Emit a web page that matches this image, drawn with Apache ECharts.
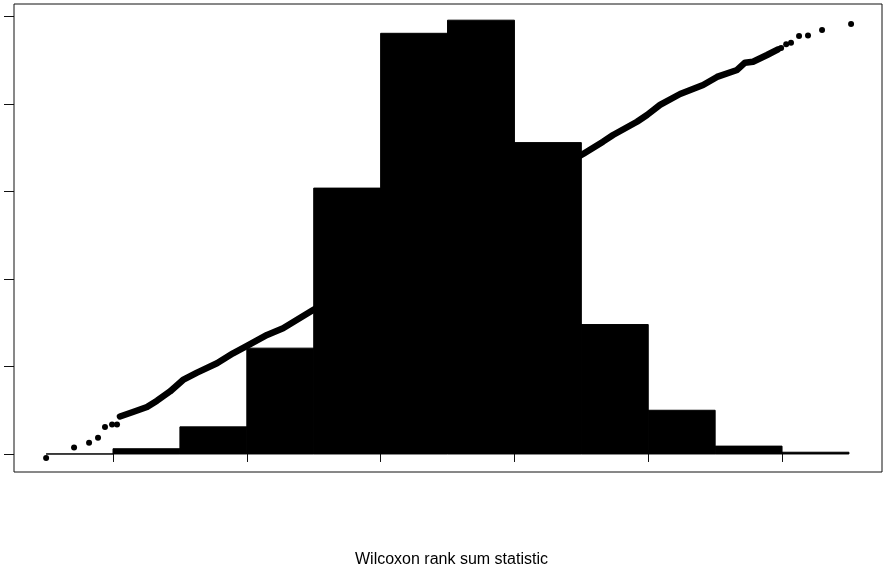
<!DOCTYPE html>
<html>
<head>
<meta charset="utf-8">
<script src="https://cdn.jsdelivr.net/npm/echarts@6/dist/echarts.min.js"></script>
<style>
html,body{margin:0;padding:0;background:#fff;}
#chart{width:883px;height:569px;}
</style>
</head>
<body>
<div id="chart"></div>
<script>
// Histogram bins (statistic value ranges) and counts
var binStart = [35, 40, 45, 50, 55, 60, 65, 70, 75, 80, 85, 90];
var binEnd   = [40, 45, 50, 55, 60, 65, 70, 75, 80, 85, 90, 95];
var counts   = [0, 6, 31, 121, 304, 481, 496, 356, 148, 50, 9, 2];

// Ordered statistics overlay: dense part (drawn as thick trace)
var traceX = [40.52, 41.49, 42.54, 43.29, 44.26, 45.23, 46.28, 47.77, 48.97, 50.01, 51.51, 52.71, 54.95,
              75.13, 76.62, 77.37, 79.16, 79.91, 80.88, 82.38, 84.10, 85.14, 86.64, 87.23, 87.83, 88.88, 89.70];
var traceY = [42.9, 48.0, 53.7, 60.9, 71.5, 84.6, 93.0, 103.7, 115.1, 123.5, 136.1, 143.7, 164.6,
              343.0, 357.1, 364.7, 379.9, 387.6, 399.1, 411.6, 421.9, 431.1, 439.1, 447.4, 448.5, 456.2, 462.7];

// Ordered statistics overlay: isolated extreme points
var dotX = [35.0, 37.09, 38.21, 38.88, 39.40, 39.93, 40.30, 89.93, 90.31, 90.67, 91.27, 91.94, 92.99, 95.16];
var dotY = [-4.6, 7.4, 12.8, 18.6, 30.9, 33.7, 33.7, 464.2, 468.4, 470.3, 477.9, 478.5, 484.8, 491.7];

// Axis ticks (no labels shown in the reference)
var xTicks = [40, 50, 60, 70, 80, 90];
var yTicks = [0, 100, 200, 300, 400, 500];

var xTitle = 'Wilcoxon rank sum statistic';

var barData = binStart.map(function (s, i) { return [s, binEnd[i], counts[i]]; });
var traceData = traceX.map(function (x, i) { return [x, traceY[i]]; });
var dotData = dotX.map(function (x, i) { return [x, dotY[i]]; });

var chart = echarts.init(document.getElementById('chart'), null, {renderer: 'canvas'});
chart.setOption({
  animation: false,
  backgroundColor: '#fff',
  title: {
    text: xTitle, left: 355, top: 552, padding: 0,
    textStyle: {fontFamily: 'Liberation Sans', fontSize: 16, fontWeight: 'normal', color: '#000'}
  },
  grid: {left: 14, right: 1, top: 4, bottom: 97, containLabel: false, outerBoundsMode: 'none',
         show: true, borderColor: '#111', borderWidth: 1, backgroundColor: 'transparent'},
  xAxis: {
    type: 'value', min: 32.6, max: 97.47,
    axisLine: {show: false},
    axisTick: {show: true, inside: false, length: 8, customValues: xTicks, lineStyle: {color: '#111', width: 1}},
    axisLabel: {show: false},
    splitLine: {show: false}
  },
  yAxis: {
    type: 'value', min: -20.6, max: 514.5,
    axisLine: {show: false},
    axisTick: {show: true, inside: false, length: 10, customValues: yTicks, lineStyle: {color: '#111', width: 1}},
    axisLabel: {show: false},
    splitLine: {show: false}
  },
  series: [
    {
      type: 'custom',
      data: barData,
      encode: {x: [0, 1], y: 2},
      z: 2,
      renderItem: function (params, api) {
        var p0 = api.coord([api.value(0), api.value(2)]);
        var p1 = api.coord([api.value(1), 0]);
        return {
          type: 'rect',
          shape: {x: p0[0], y: p0[1], width: p1[0] - p0[0], height: Math.max(p1[1] - p0[1], 0)},
          style: {fill: '#000', stroke: '#000', lineWidth: 1}
        };
      }
    },
    {
      type: 'line',
      data: traceData,
      showSymbol: false,
      symbol: 'none',
      z: 3,
      lineStyle: {color: '#000', width: 6.5, cap: 'round', join: 'round'}
    },
    {
      type: 'scatter',
      data: dotData,
      symbol: 'circle',
      symbolSize: 6,
      z: 4,
      itemStyle: {color: '#000', opacity: 1}
    }
  ]
});
</script>
</body>
</html>
